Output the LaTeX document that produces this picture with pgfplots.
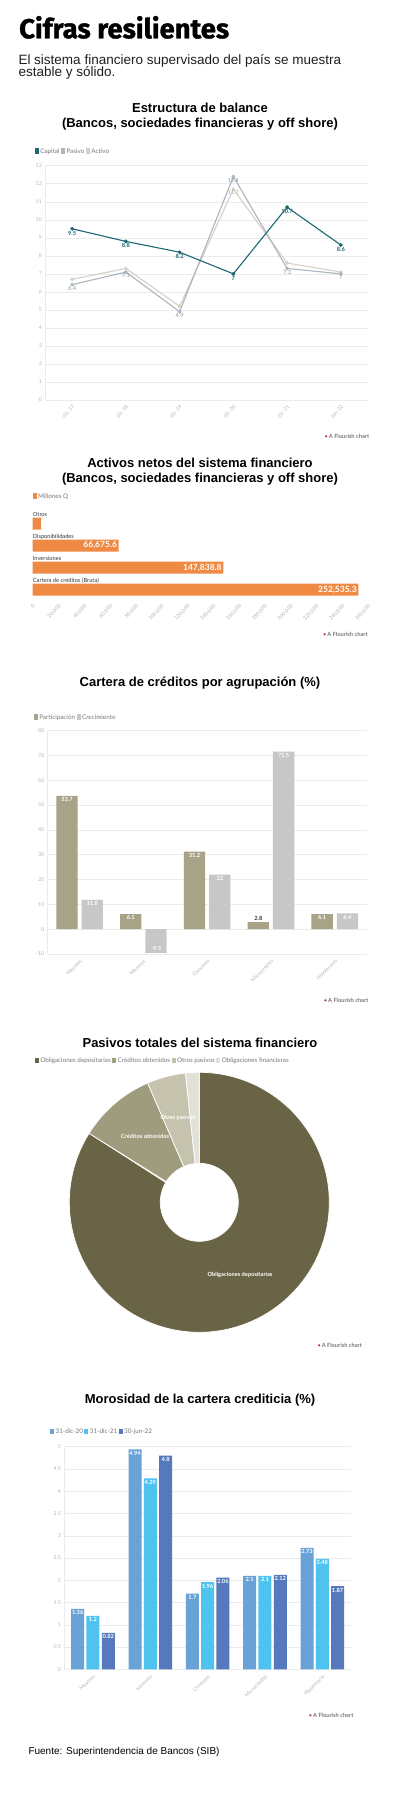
\documentclass[border=0pt]{standalone}
\usepackage{fontspec}
\usepackage{pgfplots}
\usepackage{pgfplotstable}
\pgfplotsset{compat=1.18}
\setmainfont{Liberation Sans}
\newfontfamily\cf{Lato}
\newfontfamily\hf{Fira Sans}[BoldFeatures={FakeBold=1.2}]

\definecolor{capitalc}{HTML}{1C6773}
\definecolor{pasivoc}{HTML}{A9B6BE}
\definecolor{activoc}{HTML}{D3D1C5}
\definecolor{orangec}{HTML}{EF8A45}
\definecolor{partc}{HTML}{A8A386}
\definecolor{crecc}{HTML}{C8C6C6}
\definecolor{d1}{HTML}{6A6446}
\definecolor{d2}{HTML}{9F9B7D}
\definecolor{d3}{HTML}{C5C3AE}
\definecolor{d4}{HTML}{E2E1D8}
\definecolor{b1}{HTML}{69A2D6}
\definecolor{b2}{HTML}{4FC3EF}
\definecolor{b3}{HTML}{5678BC}
\definecolor{tickc}{HTML}{B5B5B5}
\definecolor{gridc}{HTML}{EBEBEB}
\definecolor{legc}{HTML}{777777}
\definecolor{labdark}{HTML}{333333}
\definecolor{flored}{HTML}{C4252C}

\newcommand\sw[1]{{\color{#1}\rule[-0.7pt]{4pt}{5.8pt}}\hspace{1.4pt}}
\newcommand\flo{{\color{flored}\textbullet}\,{\color{legc}\bfseries A Flourish chart}}
\newcommand\ctitle{\bfseries\fontsize{13}{15}\selectfont}
\newcommand\legfont{\cf\fontsize{6.3}{7}\selectfont}

\pgfplotsset{
  flo/.style={scale only axis, anchor=south west, clip=false,
    /pgf/number format/assume math mode=true,
    tick label style={font=\cf\fontsize{5.2}{6}\selectfont, text=tickc},
    major tick length=0pt, tick style={draw=none},
    axis line style={draw=gridc, line width=0.6pt},
    grid style={draw=gridc, line width=0.5pt}},
}

% donut slice: start angle, end angle, colour
\newcommand\slice[3]{%
  \addplot[fill=#3, draw=white, line width=0.7pt, domain=0:2, samples=401, variable=\t]
  ({ifthenelse(\t<=1.0001,130,39)*cos(ifthenelse(\t<=1,#1+\t*(#2-#1),#2-(\t-1)*(#2-#1)))},
   {ifthenelse(\t<=1.0001,130,39)*sin(ifthenelse(\t<=1,#1+\t*(#2-#1),#2-(\t-1)*(#2-#1)))}) -- cycle;}

\begin{document}
\begin{tikzpicture}
\path[use as bounding box, fill=white] (0,0) rectangle (400pt,-1800pt);

% header
\node[anchor=base west, inner sep=0pt, font=\hf\bfseries\fontsize{27.5}{32}\selectfont] at (19pt,-38.3pt) {Cifras resilientes};
\node[anchor=base west, inner sep=0pt, font=\fontsize{13.5}{14}\selectfont, text=black!88] at (18.3pt,-64.3pt) {El sistema financiero supervisado del país se muestra};
\node[anchor=base west, inner sep=0pt, font=\fontsize{13.5}{14}\selectfont, text=black!88] at (18.3pt,-76.5pt) {estable y sólido.};

% ================= Chart 1 =================
\node[anchor=base, inner sep=0pt, font=\ctitle] at (200pt,-112.6pt) {Estructura de balance};
\node[anchor=base, inner sep=0pt, font=\ctitle] at (200pt,-127.6pt) {(Bancos, sociedades financieras y off shore)};
\node[anchor=west, inner sep=0pt, font=\legfont, text=legc] at (34.7pt,-151pt)
  {\sw{capitalc}Capital\hspace{1.6pt}\sw{pasivoc}Pasivo\hspace{1.6pt}\sw{activoc}Activo};
\begin{axis}[flo, at={(45.3pt,-400pt)}, width=322.4pt, height=234.3pt,
  xmin=-0.5, xmax=5.5, ymin=0, ymax=13, ytick distance=1,
  xtick={0,...,5}, xticklabels={dic-17,dic-18,dic-19,dic-20,dic-21,jun-22},
  x tick label style={rotate=45, anchor=north east},
  ymajorgrids, axis x line*=bottom, axis y line*=left,
  point meta=explicit symbolic, nodes near coords]
\addplot[color=activoc, line width=1.1pt, mark=*, mark size=1.2pt,
  nodes near coords style={anchor=north, font=\cf\fontsize{5.7}{6}\selectfont, text=activoc!80!black, inner sep=1.2pt}]
  table[meta=lab]{
x y lab
0 6.7 {}
1 7.3 {}
2 5.2 {}
3 11.7 11.7
4 7.6 {}
5 7.1 {}
};
\addplot[color=pasivoc, line width=1.1pt, mark=*, mark size=1.2pt,
  nodes near coords style={anchor=north, font=\cf\fontsize{5.7}{6}\selectfont, text=pasivoc!85!black, inner sep=1.2pt}]
  table[meta=lab]{
x y lab
0 6.4 6.4
1 7.1 7.1
2 4.9 4.9
3 12.4 12.4
4 7.3 7.3
5 7.0 7
};
\addplot[color=capitalc, line width=1.1pt, mark=*, mark size=1.3pt,
  nodes near coords style={anchor=north, font=\cf\bfseries\fontsize{5.7}{6}\selectfont, text=capitalc, inner sep=1.6pt}]
  table[meta=lab]{
x y lab
0 9.5 9.5
1 8.8 8.8
2 8.2 8.2
3 7.0 7
4 10.7 10.7
5 8.6 8.6
};
\end{axis}
\node[anchor=west, inner sep=0pt, font=\cf\fontsize{5.7}{6}\selectfont] at (324.5pt,-436pt) {\flo};

% ================= Chart 2 =================
\node[anchor=base, inner sep=0pt, font=\ctitle] at (200pt,-467.6pt) {Activos netos del sistema financiero};
\node[anchor=base, inner sep=0pt, font=\ctitle] at (200pt,-482.6pt) {(Bancos, sociedades financieras y off shore)};
\node[anchor=west, inner sep=0pt, font=\legfont, text=legc] at (32.5pt,-496pt) {\sw{orangec}Millones Q};
\begin{axis}[flo, xbar, at={(32.7pt,-599pt)}, width=335.3pt, height=97.5pt,
  xmin=0, xmax=260000, ymin=-1, ymax=3.43, y dir=reverse,
  bar width=12pt, axis line style={draw=none},
  xtick distance=20000, scaled x ticks=false,
  x tick label style={rotate=45, anchor=north east, /pgf/number format/.cd, fixed, 1000 sep={,}},
  ytick={0,1,2,3}, yticklabels={Otros, Disponibilidades, Inversiones, Cartera de créditos (Bruta)},
  y tick label style={anchor=base west, inner sep=0pt, yshift=7.5pt, font=\cf\fontsize{5.7}{6}\selectfont, text=labdark},
  point meta=explicit symbolic, nodes near coords,
  nodes near coords style={anchor=east, text=white, font=\cf\bfseries\fontsize{8.5}{9}\selectfont, inner sep=1.5pt}]
\addplot[fill=orangec, draw=none] table[meta=lab]{
x y lab
6450 0 {}
66675.6 1 66,675.6
147838.8 2 147,838.8
252535.3 3 252,535.3
};
\end{axis}
\node[anchor=west, inner sep=0pt, font=\cf\fontsize{5.7}{6}\selectfont] at (323pt,-634.7pt) {\flo};

% ================= Chart 3 =================
\node[anchor=base, inner sep=0pt, font=\ctitle] at (200pt,-686.6pt) {Cartera de créditos por agrupación (\%)};
\node[anchor=west, inner sep=0pt, font=\legfont, text=legc] at (33.7pt,-717pt)
  {\sw{partc}Participación\hspace{1.6pt}\sw{crecc}Crecimiento};
\begin{axis}[flo, ybar=4pt, bar width=21.3pt, at={(47.7pt,-954pt)}, width=319pt, height=223.4pt,
  xmin=-0.5, xmax=4.5, ymin=-10, ymax=80, ytick distance=10, ymajorgrids,
  axis x line*=bottom, axis y line*=left,
  xtick={0,...,4}, xticklabels={Mayores,Menores,Consumo,Microcrédito,Hipotecario},
  x tick label style={rotate=45, anchor=north east},
  point meta=explicit symbolic, nodes near coords,
  visualization depends on={value \thisrow{anc} \as \anc},
  visualization depends on={value \thisrow{lc} \as \lcol},
  nodes near coords style={anchor=\anc, text=\lcol, font=\cf\bfseries\fontsize{5.7}{6}\selectfont, inner sep=1.6pt}]
\addplot[fill=partc, draw=none] table[meta=lab]{
x y lab anc lc
0 53.7 53.7 north white
1 6.1 6.1 north white
2 31.2 31.2 north white
3 2.8 2.8 south labdark
4 6.1 6.1 north white
};
\addplot[fill=crecc, draw=none] table[meta=lab]{
x y lab anc lc
0 11.8 11.8 north white
1 -9.5 -9.5 south white
2 22 22 north white
3 71.5 71.5 north white
4 6.4 6.4 north white
};
\end{axis}
\node[anchor=west, inner sep=0pt, font=\cf\fontsize{5.7}{6}\selectfont] at (323.7pt,-1000.7pt) {\flo};

% ================= Chart 4 =================
\node[anchor=base, inner sep=0pt, font=\ctitle] at (200pt,-1047.6pt) {Pasivos totales del sistema financiero};
\node[anchor=west, inner sep=0pt, font=\legfont, text=legc] at (34.7pt,-1060.7pt)
  {\sw{d1}Obligaciones depositarias\hspace{1.6pt}\sw{d2}Créditos obtenidos\hspace{1.6pt}\sw{d3}Otros pasivos\hspace{1.6pt}\sw{d4}Obligaciones financieras};
\pgfmathsetmacro\va{83.9}
\pgfmathsetmacro\vb{9.6}
\pgfmathsetmacro\vc{4.8}
\pgfmathsetmacro\vd{1.7}
\pgfmathsetmacro\aa{90}
\pgfmathsetmacro\ab{90-3.6*\va}
\pgfmathsetmacro\ac{90-3.6*(\va+\vb)}
\pgfmathsetmacro\ad{90-3.6*(\va+\vb+\vc)}
\pgfmathsetmacro\ae{90-3.6*(\va+\vb+\vc+\vd)}
\begin{axis}[scale only axis, anchor=south west, at={(69.3pt,-1332.3pt)}, width=260pt, height=260pt,
  xmin=-130, xmax=130, ymin=-130, ymax=130, hide axis, clip=false]
\slice{\aa}{\ab}{d1}
\slice{\ab}{\ac}{d2}
\slice{\ac}{\ad}{d3}
\slice{\ad}{\ae}{d4}
\node[font=\cf\bfseries\fontsize{5.7}{6}\selectfont, text=white] at (axis cs:40.7,-72.7) {Obligaciones depositarias};
\node[font=\cf\bfseries\fontsize{5.7}{6}\selectfont, text=white] at (axis cs:-54.3,66.3) {Créditos obtenidos};
\node[font=\cf\bfseries\fontsize{5.7}{6}\selectfont, text=white] at (axis cs:-21.3,84.3) {Otros pasivos};
\end{axis}
\node[anchor=west, inner sep=0pt, font=\cf\fontsize{5.7}{6}\selectfont] at (317.3pt,-1345.7pt) {\flo};

% ================= Chart 5 =================
\node[anchor=base, inner sep=0pt, font=\ctitle] at (200pt,-1403.6pt) {Morosidad de la cartera crediticia (\%)};
\node[anchor=west, inner sep=0pt, font=\legfont, text=legc] at (50pt,-1431.7pt)
  {\sw{b1}31-dic-20\hspace{1.6pt}\sw{b2}31-dic-21\hspace{1.6pt}\sw{b3}30-jun-22};
\begin{axis}[flo, ybar=2.3pt, bar width=13pt, at={(64.3pt,-1669.3pt)}, width=286.7pt, height=222.6pt,
  xmin=-0.5, xmax=4.5, ymin=0, ymax=5, ytick distance=0.5, ymajorgrids,
  axis x line*=bottom, axis y line*=left,
  xtick={0,...,4}, xticklabels={Mayores,Menores,Consumo,Microcrédito,Hipotecario},
  x tick label style={rotate=45, anchor=north east},
  point meta=explicit symbolic, nodes near coords,
  nodes near coords style={anchor=north, text=white, font=\cf\bfseries\fontsize{5.7}{6}\selectfont, inner sep=1.6pt}]
\addplot[fill=b1, draw=none] table[meta=lab]{
x y lab
0 1.36 1.36
1 4.94 4.94
2 1.7 1.7
3 2.1 2.1
4 2.73 2.73
};
\addplot[fill=b2, draw=none] table[meta=lab]{
x y lab
0 1.2 1.2
1 4.29 4.29
2 1.96 1.96
3 2.1 2.1
4 2.48 2.48
};
\addplot[fill=b3, draw=none] table[meta=lab]{
x y lab
0 0.82 0.82
1 4.8 4.8
2 2.06 2.06
3 2.12 2.12
4 1.87 1.87
};
\end{axis}
\node[anchor=west, inner sep=0pt, font=\cf\fontsize{5.7}{6}\selectfont] at (308.7pt,-1715.7pt) {\flo};

\node[anchor=base west, inner sep=0pt, font=\fontsize{10}{12}\selectfont] at (28.3pt,-1754.3pt) {Fuente: Superintendencia de Bancos (SIB)};
\end{tikzpicture}
\end{document}
